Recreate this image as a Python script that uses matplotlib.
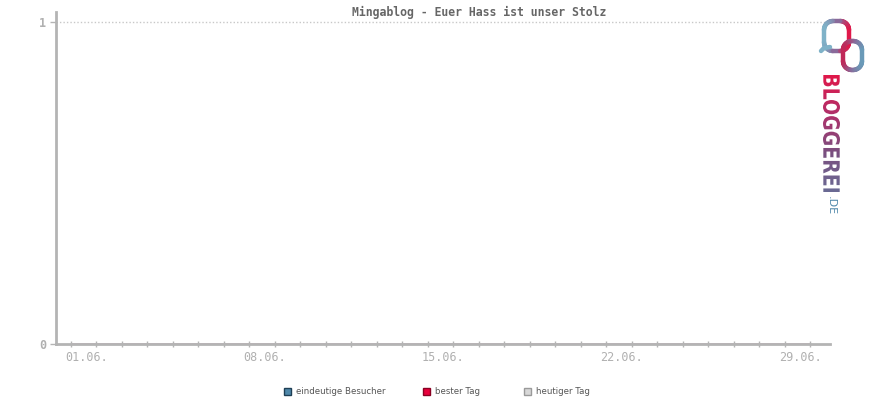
#!/usr/bin/env python
# -*- coding:utf-8 -*-

import numpy as np
import matplotlib
matplotlib.use('Agg')
import matplotlib.pyplot as plt
import matplotlib.transforms as mtrans
from matplotlib.patches import Rectangle, PathPatch
from matplotlib.collections import LineCollection
from matplotlib.colors import LinearSegmentedColormap
from matplotlib.textpath import TextPath
from matplotlib.font_manager import FontProperties

TITLE = 'Mingablog - Euer Hass ist unser Stolz'

days = list(range(1, 31))
visitors = [0] * 30
best_day = [0] * 30
tick_days = [1, 8, 15, 22, 29]
tick_labels = ['01.06.', '08.06.', '15.06.', '22.06.', '29.06.']
y_ticks = [0, 1]

legend_labels = ['eindeutige Besucher', 'bester Tag', 'heutiger Tag']
legend_faces = ['#4f88aa', '#e8003c', '#d8d8d8']
legend_edges = ['#1e3f55', '#8a0022', '#9a9a9a']

AXIS_GRAY = '#b4b4b4'
TEXT_GRAY = '#b0b0b0'


def rounded_rect(x0, x1, y0, y1, r, n=20):
    # closed outline of a rounded rectangle, counter-clockwise
    pts = []
    corners = [(x1 - r, y1 - r, 0), (x0 + r, y1 - r, 90),
               (x0 + r, y0 + r, 180), (x1 - r, y0 + r, 270)]
    for cx, cy, a in corners:
        t = np.radians(np.linspace(a, a + 90, n))
        pts.extend(zip(cx + r * np.cos(t), cy + r * np.sin(t)))
    pts.append(pts[0])
    return np.array(pts)


def gradient_line(ax, pts, cmap, lw):
    segs = np.stack([pts[:-1], pts[1:]], axis=1)
    xm = segs[:, :, 0].mean(axis=1)
    vals = (xm - xm.min()) / (xm.max() - xm.min())
    lc = LineCollection(segs, colors=cmap(vals), linewidths=lw, capstyle='round')
    ax.add_collection(lc)


def draw_logo(fig):
    # logo axes in pixel units, y pointing up
    lax = fig.add_axes([810 / 870, 185 / 400, 60 / 870, 205 / 400])
    lax.set_xlim(810, 870)
    lax.set_ylim(185, 390)
    lax.axis('off')

    cm1 = LinearSegmentedColormap.from_list('l1', ['#7fb2c8', '#8a6a9a', '#e0184a'])
    cm2 = LinearSegmentedColormap.from_list('l2', ['#c02858', '#8a6a9a', '#6a9ab8'])
    gradient_line(lax, rounded_rect(824, 849, 400 - 51, 400 - 21, 9), cm1, 3.2)
    tail = np.array([[830, 400 - 47], [824, 400 - 48], [821, 400 - 51]])
    gradient_line(lax, tail, LinearSegmentedColormap.from_list('t', ['#7fb2c8', '#7fb2c8']), 3.2)
    gradient_line(lax, rounded_rect(843, 862, 400 - 70, 400 - 41, 9), cm2, 3.2)

    # gradient word mark
    fp = FontProperties(family='DejaVu Sans', weight='bold')
    tp = TextPath((0, 0), 'BLOGGEREI', size=20, prop=fp)
    ext = tp.get_extents()
    tx0, tx1, ty0, ty1 = 823, 840, 400 - 192, 400 - 75
    tr = (mtrans.Affine2D().translate(-ext.x0, -ext.y0)
          .scale((ty1 - ty0) / ext.width, (tx1 - tx0) / ext.height)
          .rotate_deg(-90).translate(tx0, ty1))
    path = tr.transform_path(tp)
    patch = PathPatch(path, facecolor='none', edgecolor='none')
    lax.add_patch(patch)
    grad = np.linspace(0, 1, 200).reshape(-1, 1)
    cm3 = LinearSegmentedColormap.from_list('w', ['#e0184a', '#b0306a', '#7a5080', '#6a6a94'])
    im = lax.imshow(grad, cmap=cm3, extent=[tx0, tx1, ty0, ty1],
                    origin='upper', aspect='auto', zorder=2)
    im.set_clip_path(patch)
    lax.set_xlim(810, 870)
    lax.set_ylim(185, 390)

    fig.text(830.5 / 870, 1 - 196 / 400, '.DE', rotation=-90, ha='center',
             va='top', fontsize=8, color='#4f88aa', family='DejaVu Sans')


def main():
    fig = plt.figure(figsize=(8.7, 4.0), dpi=100)
    ax = fig.add_axes([56 / 870, 56 / 400, 774 / 870, 332 / 400])

    ax.plot(days, visitors, color='#4f88aa', lw=1, zorder=1)
    ax.plot(days, best_day, color='#e8003c', lw=1, zorder=1)

    ax.set_xlim(0.42, 30.77)
    ax.set_ylim(0, 1.031)

    for s in ('top', 'right'):
        ax.spines[s].set_visible(False)
    for s in ('left', 'bottom'):
        ax.spines[s].set_color(AXIS_GRAY)
        ax.spines[s].set_linewidth(2)
        ax.spines[s].set_zorder(3)

    ax.set_xticks(days, minor=True)
    ax.set_xticks(tick_days)
    ax.set_xticklabels(tick_labels)
    ax.tick_params(axis='x', which='both', length=4, width=1, color=AXIS_GRAY,
                   direction='inout', labelcolor=TEXT_GRAY, labelsize=8.5, pad=3)
    # labels start a little left of their tick
    offset = mtrans.ScaledTranslation(-6 / 100, 0, fig.dpi_scale_trans)
    for lab in ax.get_xticklabels():
        lab.set_horizontalalignment('left')
        lab.set_transform(lab.get_transform() + offset)
        lab.set_fontfamily('DejaVu Sans Mono')

    ax.set_yticks(y_ticks)
    ax.set_yticklabels([str(v) for v in y_ticks])
    ax.tick_params(axis='y', length=4, width=1, color=AXIS_GRAY, direction='out',
                   labelcolor=TEXT_GRAY, labelsize=8.5, pad=3)
    for lab in ax.get_yticklabels():
        lab.set_fontfamily('DejaVu Sans Mono')
        lab.set_fontweight('bold')

    ax.axhline(1, color='#c8c8c8', lw=1, ls=(0, (1, 1.5)), zorder=0)

    fig.text(479 / 870, 1 - 12 / 400, TITLE, ha='center', va='center',
             fontsize=8.3, fontweight='bold', color='#666666',
             family='DejaVu Sans Mono')

    # legend
    xs = [284, 423, 524]
    for x, lab, fc, ec in zip(xs, legend_labels, legend_faces, legend_edges):
        fig.patches.append(Rectangle((x / 870, 1 - 395 / 400), 7 / 870, 7 / 400,
                                     transform=fig.transFigure, facecolor=fc,
                                     edgecolor=ec, lw=1))
        fig.text((x + 12) / 870, 1 - 391 / 400, lab, ha='left', va='center',
                 fontsize=6.2, color='#555555', family='DejaVu Sans')

    draw_logo(fig)

    fig.savefig('out.png', dpi=100)


if __name__ == '__main__':
    main()
